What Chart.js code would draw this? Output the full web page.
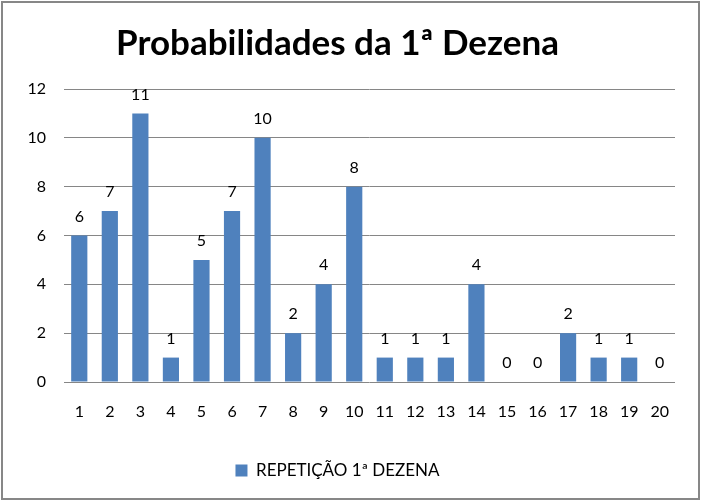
<!DOCTYPE html>
<html>
<head>
<meta charset="utf-8">
<script src="https://cdn.jsdelivr.net/npm/chart.js@4.4.0/dist/chart.umd.min.js"></script>
<style>
  html, body { margin: 0; padding: 0; background: #fff; }
  #wrap { width: 701px; height: 501px; }
</style>
</head>
<body>
<div id="wrap"><canvas id="myBarChart" width="701" height="501"></canvas></div>
<script>
// Chart data
const categories = ['1', '2', '3', '4', '5', '6', '7', '8', '9', '10',
    '11', '12', '13', '14', '15', '16', '17', '18', '19', '20'];
const repeticao = [6, 7, 11, 1, 5, 7, 10, 2, 4, 8, 1, 1, 1, 4, 0, 0, 2, 1, 1, 0];
const seriesName = 'REPETIÇÃO 1ª DEZENA';
const chartTitle = 'Probabilidades da 1ª Dezena';

const fontFamily = 'Lato, "Open Sans", sans-serif';

// Draws the value above each bar
const valueLabels = {
    id: 'valueLabels',
    afterDatasetsDraw(chart) {
        const ctx = chart.ctx;
        const meta = chart.getDatasetMeta(0);
        ctx.save();
        ctx.font = '16px ' + fontFamily;
        ctx.fillStyle = '#000';
        ctx.textAlign = 'center';
        ctx.textBaseline = 'middle';
        meta.data.forEach((bar, i) => {
            ctx.fillText(String(repeticao[i]), bar.x, bar.y - 19);
        });
        ctx.restore();
    }
};

// White background and grey outer frame
const frame = {
    id: 'frame',
    beforeDraw(chart) {
        const ctx = chart.ctx;
        ctx.save();
        ctx.fillStyle = '#fff';
        ctx.fillRect(0, 0, chart.width, chart.height);
        ctx.restore();
    },
    afterDraw(chart) {
        const ctx = chart.ctx;
        ctx.save();
        ctx.strokeStyle = '#878787';
        ctx.lineWidth = 2;
        ctx.strokeRect(2, 2, chart.width - 4, chart.height - 4);
        ctx.restore();
    }
};

const ctx = document.getElementById('myBarChart').getContext('2d');
const myBarChart = new Chart(ctx, {
    type: 'bar',
    data: {
        labels: categories,
        datasets: [{
            label: seriesName,
            data: repeticao,
            backgroundColor: '#4F81BD',
            categoryPercentage: 1.0,
            barPercentage: 0.53
        }]
    },
    options: {
        responsive: false,
        animation: false,
        layout: { padding: { left: 0, right: 26, top: 0, bottom: 12 } },
        scales: {
            x: {
                grid: { display: false, drawTicks: false },
                border: { display: false },
                ticks: { color: '#000', font: { size: 16, family: fontFamily }, padding: 20, maxRotation: 0, autoSkip: false },
                afterFit(scale) { scale.height = 70; }
            },
            y: {
                min: 0,
                max: 12,
                grid: { color: '#868686', drawTicks: false },
                border: { display: false },
                ticks: { stepSize: 2, color: '#000', font: { size: 16, family: fontFamily }, padding: 18 },
                afterFit(scale) { scale.width = 64; }
            }
        },
        plugins: {
            title: {
                display: true,
                text: chartTitle,
                color: '#000',
                font: { size: 35, weight: 'bold', family: fontFamily },
                padding: { top: 23, bottom: 24 }
            },
            legend: {
                position: 'bottom',
                labels: {
                    color: '#000',
                    font: { size: 17, family: fontFamily },
                    boxWidth: 12,
                    boxHeight: 12,
                    padding: 10
                }
            },
            tooltip: { enabled: false }
        }
    },
    plugins: [frame, valueLabels]
});
</script>
</body>
</html>
